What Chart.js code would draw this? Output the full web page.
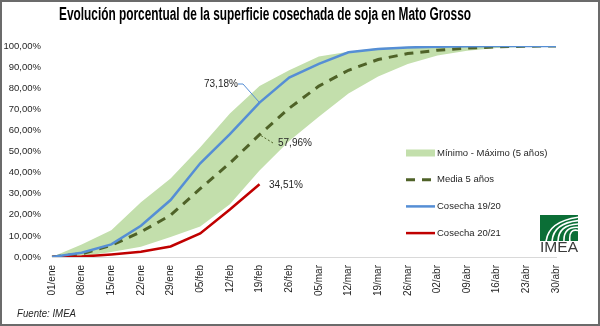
<!DOCTYPE html>
<html>
<head>
<meta charset="utf-8">
<title>Superficie cosechada de soja - Mato Grosso</title>
<script src="https://cdn.jsdelivr.net/npm/chart.js@4.4.1/dist/chart.umd.min.js"></script>
<style>
    html, body { margin: 0; padding: 0; background: #fff; }
    #wrap { width: 600px; height: 326px; position: relative; }
</style>
</head>
<body>
<div id="wrap"><canvas id="harvestChart" width="600" height="326"></canvas></div>
<script>
// weekly harvest progress, % of planted area
var weeks = ['01/ene', '08/ene', '15/ene', '22/ene', '29/ene', '05/feb', '12/feb', '19/feb', '26/feb',
             '05/mar', '12/mar', '19/mar', '26/mar', '02/abr', '09/abr', '16/abr', '23/abr', '30/abr'];
var maxPct = [0, 5.9, 12.7, 26.0, 37.2, 52.0, 68.0, 81.0, 88.5, 95.0, 97.3, 99.0, 99.6, 100, 100, 100, 100, 100];
var minPct = [0, 0.3, 2.4, 4.8, 9.5, 14.5, 25.0, 41.0, 55.0, 66.5, 77.5, 85.5, 91.5, 95.5, 97.8, 99.0, 99.6, 100];
var mediaPct = [0, 1.5, 5.5, 11.9, 19.8, 32.4, 44.5, 57.96, 70.5, 81.0, 88.5, 93.6, 96.4, 98.0, 99.0, 99.6, 99.9, 100];
var harvest1920 = [0, 2.0, 6.0, 14.8, 27.0, 44.4, 58.2, 73.18, 85.0, 91.5, 97.0, 98.6, 99.3, 99.7, 99.9, 100, 100, 100];
var harvest2021 = [0, 0.2, 1.2, 2.5, 5.0, 11.2, 22.5, 34.51];
var yTickValues = [0, 10, 20, 30, 40, 50, 60, 70, 80, 90, 100];

var FONT = "'Liberation Sans', Arial, sans-serif";
var TEXT_COLOR = '#262626';

function pctLabel(v) {
    return v.toFixed(2).replace('.', ',') + '%';
}

// squeeze a string horizontally so it fits a given width (condensed look)
function drawCondensed(ctx, text, x, y, width) {
    var w = ctx.measureText(text).width;
    ctx.save();
    ctx.translate(x, y);
    ctx.scale(width / w, 1);
    ctx.fillText(text, 0, 0);
    ctx.restore();
}

// frame, title, source note and logo
var decorPlugin = {
    id: 'decor',
    afterDraw: function(chart) {
        var ctx = chart.ctx;
        ctx.save();
        ctx.strokeStyle = '#6b6b6b';
        ctx.lineWidth = 2;
        ctx.strokeRect(1, 1, 598, 324);

        ctx.fillStyle = '#000';
        ctx.font = 'bold 18px ' + FONT;
        ctx.textBaseline = 'alphabetic';
        ctx.textAlign = 'left';
        drawCondensed(ctx, 'Evolución porcentual de la superficie cosechada de soja en Mato Grosso', 59, 20, 412);

        ctx.fillStyle = TEXT_COLOR;
        ctx.font = 'italic 11px ' + FONT;
        ctx.textBaseline = 'middle';
        drawCondensed(ctx, 'Fuente: IMEA', 17, 314, 59);

        // IMEA logo
        var lx = 540, ly = 215, lw = 38, lh = 26;
        ctx.fillStyle = '#0b6e36';
        ctx.fillRect(lx, ly, lw, lh);
        ctx.save();
        ctx.beginPath();
        ctx.rect(lx, ly, lw, lh);
        ctx.clip();
        ctx.strokeStyle = '#fff';
        ctx.lineWidth = 1.6;
        for (var k = 0; k < 5; k++) {
            ctx.beginPath();
            ctx.moveTo(lx + 6 + k * 6, ly + lh + 1);
            ctx.quadraticCurveTo(lx + 8 + k * 5, ly + 6 + k * 1.5, lx + lw + 2, ly + 2 + k * 3.5);
            ctx.stroke();
        }
        ctx.restore();
        ctx.fillStyle = '#3a3a3a';
        ctx.font = '14px ' + FONT;
        ctx.textBaseline = 'alphabetic';
        drawCondensed(ctx, 'IMEA', lx, 252, lw);
        ctx.restore();
    }
};

// legend drawn inside the plot area, lower right
var legendRows = [
    { label: 'Mínimo - Máximo (5 años)', dataset: 3, box: true },
    { label: 'Media 5 años', dataset: 2 },
    { label: 'Cosecha 19/20', dataset: 0 },
    { label: 'Cosecha 20/21', dataset: 1 }
];

var innerLegendPlugin = {
    id: 'innerLegend',
    afterDraw: function(chart) {
        var ctx = chart.ctx;
        var x0 = 406, x1 = 435, y = 153, step = 26.7;
        ctx.save();
        ctx.font = '9.5px ' + FONT;
        ctx.textBaseline = 'middle';
        ctx.textAlign = 'left';
        for (var i = 0; i < legendRows.length; i++) {
            var row = legendRows[i];
            var ds = chart.data.datasets[row.dataset];
            var cy = y + i * step;
            if (row.box) {
                ctx.fillStyle = ds.backgroundColor;
                ctx.fillRect(x0, cy - 3.5, x1 - x0, 7);
            } else {
                ctx.strokeStyle = ds.borderColor;
                ctx.lineWidth = ds.borderWidth;
                ctx.setLineDash(ds.borderDash || []);
                ctx.beginPath();
                ctx.moveTo(x0, cy);
                ctx.lineTo(x1, cy);
                ctx.stroke();
                ctx.setLineDash([]);
            }
            ctx.fillStyle = TEXT_COLOR;
            ctx.fillText(row.label, x1 + 2, cy);
        }
        ctx.restore();
    }
};

// value callouts at 19/feb
var callouts = [
    { dataset: 0, index: 7, tx: 204, ty: 84, leader: [[238, 84], [243, 84]], color: '#558ed5', dash: [] },
    { dataset: 2, index: 7, tx: 278, ty: 143, leader: [[273, 143]], color: '#4f6228', dash: [2, 2] },
    { dataset: 1, index: 7, tx: 269, ty: 185, leader: null }
];

var calloutPlugin = {
    id: 'callouts',
    afterDatasetsDraw: function(chart) {
        var ctx = chart.ctx;
        ctx.save();
        ctx.font = '10px ' + FONT;
        ctx.textBaseline = 'middle';
        ctx.textAlign = 'left';
        for (var i = 0; i < callouts.length; i++) {
            var c = callouts[i];
            var pt = chart.getDatasetMeta(c.dataset).data[c.index];
            var value = chart.data.datasets[c.dataset].data[c.index];
            if (c.leader) {
                ctx.strokeStyle = c.color;
                ctx.lineWidth = 1;
                ctx.setLineDash(c.dash);
                ctx.beginPath();
                ctx.moveTo(c.leader[0][0], c.leader[0][1]);
                for (var j = 1; j < c.leader.length; j++) ctx.lineTo(c.leader[j][0], c.leader[j][1]);
                ctx.lineTo(pt.x, pt.y);
                ctx.stroke();
                ctx.setLineDash([]);
            }
            ctx.fillStyle = TEXT_COLOR;
            ctx.fillText(pctLabel(value), c.tx, c.ty);
        }
        ctx.restore();
    }
};

var ctx = document.getElementById('harvestChart');

var harvestChart = new Chart(ctx, {
    type: 'line',
    data: {
        labels: weeks,
        datasets: [{
            label: 'Cosecha 19/20',
            data: harvest1920,
            borderColor: '#558ed5',
            borderWidth: 2.5,
            pointRadius: 0,
            tension: 0,
            fill: false,
            order: 1
        }, {
            label: 'Cosecha 20/21',
            data: harvest2021,
            borderColor: '#c00000',
            borderWidth: 2.5,
            pointRadius: 0,
            tension: 0,
            fill: false,
            order: 2
        }, {
            label: 'Media 5 años',
            data: mediaPct,
            borderColor: '#4f6228',
            borderWidth: 3,
            borderDash: [9, 7],
            borderCapStyle: 'butt',
            pointRadius: 0,
            tension: 0,
            fill: false,
            order: 3
        }, {
            label: 'Mínimo - Máximo (5 años)',
            data: maxPct,
            borderWidth: 0,
            borderColor: 'rgba(0,0,0,0)',
            backgroundColor: '#c3dfac',
            pointRadius: 0,
            tension: 0,
            fill: '+1',
            order: 8
        }, {
            label: 'Mínimo',
            data: minPct,
            borderWidth: 0,
            borderColor: 'rgba(0,0,0,0)',
            pointRadius: 0,
            tension: 0,
            fill: false,
            order: 9
        }]
    },
    options: {
        responsive: false,
        animation: false,
        layout: { padding: { top: 46, right: 44, bottom: 0, left: 0 } },
        plugins: {
            legend: { display: false },
            title: { display: false },
            tooltip: { enabled: false }
        },
        scales: {
            x: {
                grid: { display: false, drawTicks: false },
                border: { display: true, color: '#d9d9d9', width: 1 },
                ticks: {
                    autoSkip: false,
                    minRotation: 90,
                    maxRotation: 90,
                    padding: 8,
                    color: TEXT_COLOR,
                    font: { family: FONT, size: 10 }
                },
                afterFit: function(scale) { scale.height = 69; }
            },
            y: {
                min: 0,
                max: 100,
                grid: { display: false, drawTicks: false },
                border: { display: false },
                afterBuildTicks: function(scale) {
                    scale.ticks = yTickValues.map(function(v) { return { value: v }; });
                },
                ticks: {
                    padding: 11,
                    color: TEXT_COLOR,
                    font: { family: FONT, size: 9.5 },
                    callback: function(value) { return pctLabel(value); }
                },
                afterFit: function(scale) { scale.width = 52; }
            }
        }
    },
    plugins: [calloutPlugin, innerLegendPlugin, decorPlugin]
});
</script>
</body>
</html>
